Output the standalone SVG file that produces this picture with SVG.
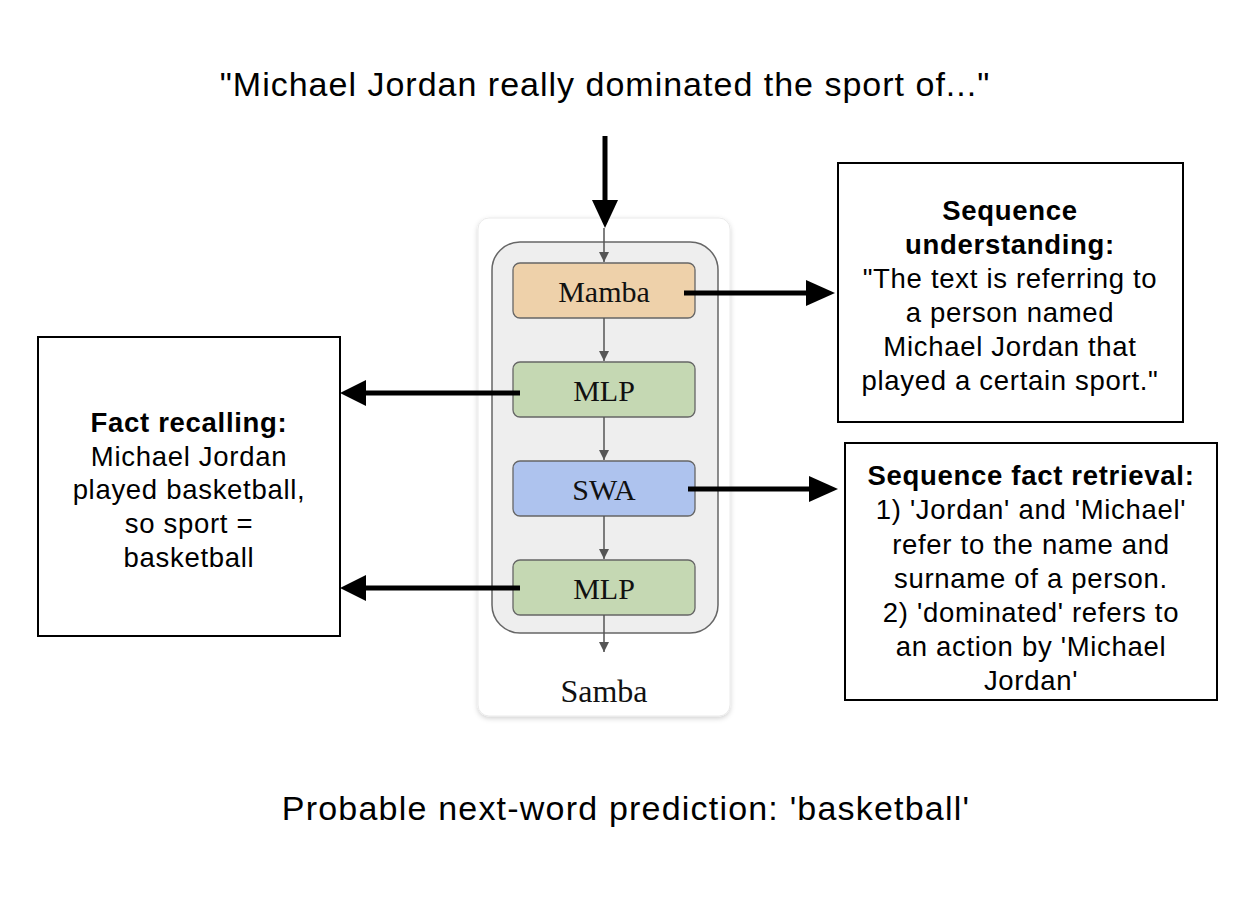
<svg xmlns="http://www.w3.org/2000/svg" width="1250" height="900" viewBox="0 0 1250 900">
<style>
.sans{font-family:"Liberation Sans",Arial,sans-serif;fill:#000}
.serif{font-family:"Liberation Serif","Times New Roman",serif;fill:#111}
.box{fill:#fff;stroke:#000;stroke-width:2}
.big{stroke:#000;stroke-width:5;fill:none}
.gray{stroke:#555;stroke-width:1.5;fill:none}
.bt{font-size:27.5px;letter-spacing:0.7px;text-anchor:middle}
.bb{font-weight:bold}
.blk{fill:#bfd6ad;stroke:#666;stroke-width:1.3}
.lbl{font-size:30px;text-anchor:middle}
</style>
<defs>
<marker id="ga" viewBox="0 0 10 10" refX="10" refY="5" markerWidth="10" markerHeight="10" markerUnits="userSpaceOnUse" orient="auto"><path d="M0,0 L10,5 L0,10 z" fill="#555"/></marker>
<filter id="sh" x="-10%" y="-10%" width="120%" height="120%"><feDropShadow dx="0" dy="2" stdDeviation="2.5" flood-color="#000" flood-opacity="0.18"/></filter>
</defs>
<rect width="1250" height="900" fill="#fff"/>
<text class="sans" x="605" y="96" font-size="34" letter-spacing="1" text-anchor="middle">"Michael Jordan really dominated the sport of..."</text>
<g id="samba">
<rect x="478" y="218" width="252" height="498" rx="11" fill="#fff" stroke="#eaeaea" stroke-width="1" filter="url(#sh)"/>
<rect x="492" y="242" width="226" height="391" rx="28" fill="#eeeeee" stroke="#666" stroke-width="1.5"/>
<text class="serif" x="604" y="702" font-size="32" text-anchor="middle">Samba</text>
</g>
<g id="mamba">
<rect x="513" y="263" width="182" height="55" rx="7" fill="#eed1aa" stroke="#666" stroke-width="1.3"/>
<text class="serif lbl" x="604" y="302">Mamba</text>
</g>
<g id="mlp1">
<rect x="513" y="362" width="182" height="55" rx="7" fill="#c5d8b3" stroke="#666" stroke-width="1.3"/>
<text class="serif lbl" x="604" y="401">MLP</text>
</g>
<g id="swa">
<rect x="513" y="461" width="182" height="55" rx="7" fill="#aec3ee" stroke="#666" stroke-width="1.3"/>
<text class="serif lbl" x="604" y="500">SWA</text>
</g>
<g id="mlp2">
<rect x="513" y="560" width="182" height="55" rx="7" fill="#c5d8b3" stroke="#666" stroke-width="1.3"/>
<text class="serif lbl" x="604" y="599">MLP</text>
</g>
<g id="understanding">
<rect class="box" x="838" y="163" width="345" height="259"/>
<text class="sans bt bb" x="1010" y="220">Sequence</text>
<text class="sans bt bb" x="1010" y="254">understanding:</text>
<text class="sans bt" x="1010" y="288">"The text is referring to</text>
<text class="sans bt" x="1010" y="322">a person named</text>
<text class="sans bt" x="1010" y="356">Michael Jordan that</text>
<text class="sans bt" x="1010" y="390">played a certain sport."</text>
</g>
<g id="retrieval">
<rect class="box" x="845" y="443" width="372" height="257"/>
<text class="sans bt bb" x="1031" y="485">Sequence fact retrieval:</text>
<text class="sans bt" x="1031" y="519">1) 'Jordan' and 'Michael'</text>
<text class="sans bt" x="1031" y="554">refer to the name and</text>
<text class="sans bt" x="1031" y="588">surname of a person.</text>
<text class="sans bt" x="1031" y="622">2) 'dominated' refers to</text>
<text class="sans bt" x="1031" y="656">an action by 'Michael</text>
<text class="sans bt" x="1031" y="690">Jordan'</text>
</g>
<g id="recall">
<rect class="box" x="38" y="337" width="302" height="299"/>
<text class="sans bt bb" x="189" y="432">Fact recalling:</text>
<text class="sans bt" x="189" y="466">Michael Jordan</text>
<text class="sans bt" x="189" y="499">played basketball,</text>
<text class="sans bt" x="189" y="533">so sport =</text>
<text class="sans bt" x="189" y="567">basketball</text>
</g>
<text class="sans" x="626" y="820" font-size="34" letter-spacing="1.2" text-anchor="middle">Probable next-word prediction: 'basketball'</text>
<g id="connectors">
<line class="gray" x1="604" y1="228" x2="604" y2="262" marker-end="url(#ga)"/>
<line class="gray" x1="604" y1="318" x2="604" y2="361" marker-end="url(#ga)"/>
<line class="gray" x1="604" y1="417" x2="604" y2="460" marker-end="url(#ga)"/>
<line class="gray" x1="604" y1="516" x2="604" y2="559" marker-end="url(#ga)"/>
<line class="gray" x1="604" y1="615" x2="604" y2="652" marker-end="url(#ga)"/>
<line class="big" x1="605" y1="136" x2="605" y2="202"/>
<path d="M592,200 L618,200 L605,228 z" fill="#000"/>
<line class="big" x1="684" y1="293" x2="808" y2="293"/>
<path d="M806,280 L835,293 L806,306 z" fill="#000"/>
<line class="big" x1="688" y1="489" x2="811" y2="489"/>
<path d="M809,476 L838,489 L809,502 z" fill="#000"/>
<line class="big" x1="520" y1="393" x2="364" y2="393"/>
<path d="M366,380 L340,393 L366,406 z" fill="#000"/>
<line class="big" x1="520" y1="588" x2="364" y2="588"/>
<path d="M366,575 L340,588 L366,601 z" fill="#000"/>
</g>
</svg>
